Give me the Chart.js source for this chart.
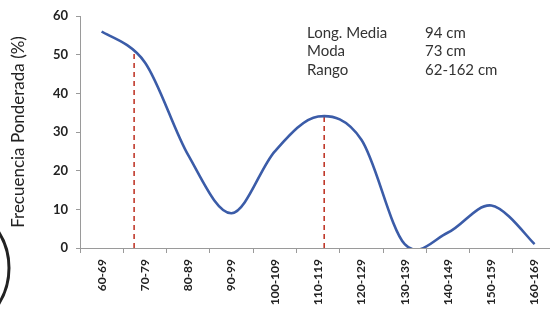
<!DOCTYPE html>
<html>
<head>
<meta charset="utf-8">
<script src="https://cdn.jsdelivr.net/npm/chart.js@4/dist/chart.umd.min.js"></script>
<style>
  html, body { margin: 0; padding: 0; background: #fff; }
  #wrap { width: 555px; height: 309px; position: relative; }
</style>
</head>
<body>
<div id="wrap"><canvas id="chart"></canvas></div>
<script>
// clases de longitud (cm)
const categories = ['60-69', '70-79', '80-89', '90-99', '100-109', '110-119',
                    '120-129', '130-139', '140-149', '150-159', '160-169'];
// frecuencia ponderada (%) por clase
const frecuencia = [56, 48, 24, 9, 25, 34, 28, 1, 4, 11, 1];
// lineas rojas de referencia (posicion en el eje de clases, altura en %)
const refX = [0.75, 5.14];
const refTop = [51, 34.4];
// cuadro de estadisticos
const statLabels = ['Long. Media', 'Moda', 'Rango'];
const statValues = ['94 cm', '73 cm', '62-162 cm'];

const FONT = "Lato, 'Liberation Sans', sans-serif";

// Suavizado tipo Excel (Catmull-Rom) en vez del spline ponderado de Chart.js
const baseUpdate = Chart.LineElement.prototype.updateControlPoints;
Chart.LineElement.prototype.updateControlPoints = function (area, axis) {
    const fresh = !this._pointsUpdated;
    baseUpdate.call(this, area, axis);
    if (!fresh || !(this.options.tension > 0)) return;
    const pts = this._points;
    const k = this.options.tension / 2;
    for (let i = 0; i < pts.length; i++) {
        const p = pts[i];
        const a = pts[Math.max(i - 1, 0)];
        const b = pts[Math.min(i + 1, pts.length - 1)];
        p.cp1x = p.x - k * (b.x - a.x);
        p.cp1y = p.y - k * (b.y - a.y);
        p.cp2x = p.x + k * (b.x - a.x);
        p.cp2y = p.y + k * (b.y - a.y);
    }
};

const refDatasets = refX.map((x, i) => ({
    data: [{ x: x, y: 0 }, { x: x, y: refTop[i] }],
    borderColor: '#c0392b',
    borderWidth: 1.6,
    borderDash: [5, 4],
    pointRadius: 0,
    tension: 0,
    order: 2
}));

const statsBox = {
    id: 'statsBox',
    afterDraw(chart) {
        const { ctx } = chart;
        ctx.save();
        ctx.font = '15px ' + FONT;
        ctx.fillStyle = '#333';
        ctx.textBaseline = 'middle';
        statLabels.forEach((t, i) => {
            ctx.fillText(t, 307, 33 + i * 18.5);
            ctx.fillText(statValues[i], 425, 33 + i * 18.5);
        });
        // borde del sello escaneado
        ctx.beginPath();
        ctx.strokeStyle = '#222';
        ctx.lineWidth = 3;
        ctx.arc(-58, 268, 67, -0.75, 0.75);
        ctx.stroke();
        ctx.restore();
    }
};

new Chart(document.getElementById('chart'), {
    type: 'line',
    data: {
        datasets: [{
            data: frecuencia.map((v, i) => ({ x: i, y: v })),
            borderColor: '#3b5ca8',
            borderWidth: 2.6,
            pointRadius: 0,
            tension: 1 / 3,
            order: 1
        }, ...refDatasets]
    },
    options: {
        responsive: true,
        maintainAspectRatio: false,
        animation: false,
        layout: { padding: { top: 16, right: 0, left: 0, bottom: 0 } },
        plugins: { legend: { display: false }, tooltip: { enabled: false } },
        scales: {
            x: {
                type: 'linear',
                min: -0.5,
                max: 10.345,
                afterBuildTicks: (scale) => {
                    scale.ticks = categories.map((c, i) => ({ value: i }));
                },
                afterFit: (scale) => { scale.height = 61; },
                grid: {
                    offset: true,
                    drawOnChartArea: false,
                    color: '#9a9a9a',
                    tickLength: 5
                },
                border: { color: '#9a9a9a', width: 1 },
                ticks: {
                    autoSkip: false,
                    minRotation: 90,
                    maxRotation: 90,
                    padding: 6,
                    color: '#222',
                    font: { family: FONT, size: 12, weight: 'bold' },
                    callback: (v) => categories[v]
                }
            },
            y: {
                min: 0,
                max: 60,
                afterFit: (scale) => { scale.width = 80; },
                grid: { drawOnChartArea: false, color: '#9a9a9a', tickLength: 4 },
                border: { color: '#9a9a9a', width: 1 },
                ticks: {
                    stepSize: 10,
                    padding: 8,
                    color: '#222',
                    font: { family: FONT, size: 13, weight: 'bold' }
                },
                title: {
                    display: true,
                    text: 'Frecuencia Ponderada (%)',
                    color: '#222',
                    padding: { top: 8, bottom: 0 },
                    font: { family: FONT, size: 17 }
                }
            }
        }
    },
    plugins: [statsBox]
});
</script>
</body>
</html>
